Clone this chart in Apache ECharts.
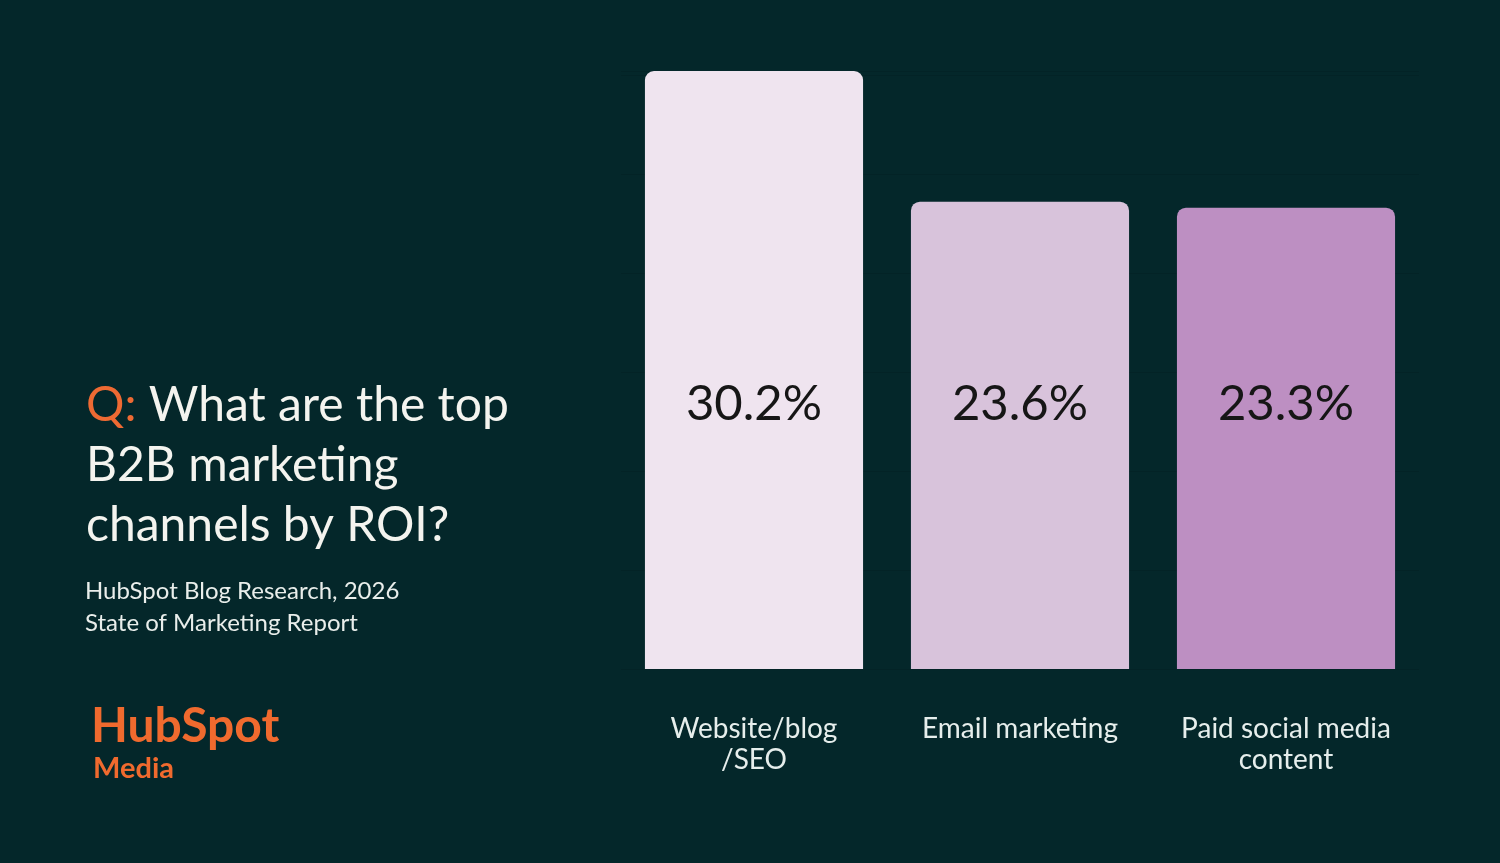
<!DOCTYPE html>
<html>
<head>
<meta charset="utf-8">
<script src="https://cdn.jsdelivr.net/npm/echarts@6/dist/echarts.min.js"></script>
<style>
html,body{margin:0;padding:0;background:#04272a;}
#chart{width:1500px;height:863px;}
</style>
</head>
<body>
<div id="chart"></div>
<script>
const categories = ['Website/blog\n/SEO', 'Email marketing', 'Paid social media\ncontent'];
const values = [30.2, 23.6, 23.3];
const barColors = ['#efe4ef', '#d8c3db', '#bd8fc2'];
const titleLines = ['What are the top', 'B2B marketing', 'channels by ROI?'];
const sourceLines = ['HubSpot Blog Research, 2026', 'State of Marketing Report'];

const FONT = 'Lato, "Noto Sans", sans-serif';
const chart = echarts.init(document.getElementById('chart'));
chart.setOption({
  backgroundColor: '#04272a',
  animation: false,
  title: [
    {
      left: 81, top: 371,
      text: '{q|Q:} ' + titleLines[0] + '\n' + titleLines[1] + '\n' + titleLines[2],
      textStyle: {
        color: '#f4f4ef', fontSize: 48, lineHeight: 60, fontFamily: FONT, fontWeight: 'normal',
        rich: { q: { color: '#ee6a33', fontSize: 48, lineHeight: 60, fontFamily: FONT } }
      }
    },
    {
      left: 80, top: 570,
      text: sourceLines.join('\n'),
      textStyle: { color: '#e9eeeb', fontSize: 24, lineHeight: 32, fontFamily: FONT, fontWeight: 'normal' }
    },
    {
      left: 86, top: 698,
      text: 'HubSpot',
      textStyle: { color: '#f06a2e', fontSize: 48, fontWeight: 'bold', fontFamily: FONT }
    },
    {
      left: 88, top: 749,
      text: 'Media',
      textStyle: { color: '#f06a2e', fontSize: 29, fontWeight: 'bold', fontFamily: FONT }
    }
  ],
  grid: { left: 621, right: 81, top: 71, bottom: 194, containLabel: false },
  xAxis: {
    type: 'category',
    data: categories,
    axisLine: { show: false },
    axisTick: { show: false },
    axisLabel: { interval: 0, hideOverlap: false, color: '#e6eeec', fontSize: 28, lineHeight: 31, fontFamily: FONT, margin: 44 }
  },
  yAxis: {
    type: 'value',
    min: 0, max: 'dataMax', interval: 5,
    axisLabel: { show: false },
    axisLine: { show: false },
    axisTick: { show: false },
    splitLine: { lineStyle: { color: '#032326', width: 1 } }
  },
  series: [{
    type: 'bar',
    barWidth: '82%',
    data: values.map((v, i) => ({ value: v, itemStyle: { color: barColors[i] } })),
    itemStyle: { borderRadius: [9, 9, 0, 0] },
    label: {
      show: true,
      position: 'insideBottom',
      distance: 240,
      formatter: p => p.value.toFixed(1) + '%',
      color: '#161616',
      fontSize: 49,
      fontFamily: FONT
    }
  }]
});
</script>
</body>
</html>
